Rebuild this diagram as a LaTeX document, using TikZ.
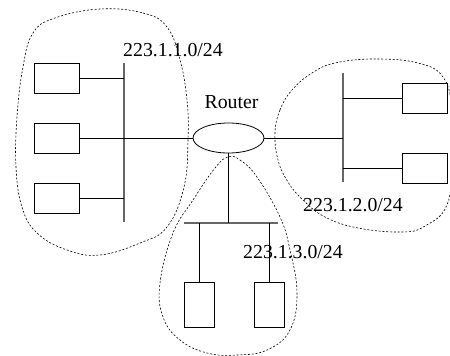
\documentclass[tikz,border=0pt]{standalone}
\usepackage{fontspec}
\setmainfont{Liberation Serif}
\usetikzlibrary{shapes.geometric}
\begin{document}
\begin{tikzpicture}[x=1pt,y=-1pt,
  host/.style={draw, minimum width=45pt, minimum height=30pt, inner sep=0pt, line width=0.8pt},
  vhost/.style={draw, minimum width=30pt, minimum height=45pt, inner sep=0pt, line width=0.8pt},
  bus/.style={draw=black!60, line width=1.4pt},
  link/.style={line width=0.8pt},
  blob/.style={dash pattern=on 2pt off 1.8pt, line width=0.6pt},
  lbl/.style={font=\fontsize{19.8}{21}\selectfont, inner sep=0pt, anchor=base west}]
\useasboundingbox (0,0) rectangle (450,356);
% blobs
\draw[blob] plot[smooth cycle, tension=0.7] coordinates {(100,9) (143,13) (167,27) (180,60) (187,100) (188,140) (184,187) (167,227) (140,243) (100,255) (67,250) (37,233) (22,207) (16,167) (17,117) (23,67) (33,33) (55,18)};
\draw[blob] plot[smooth cycle, tension=0.7] coordinates {(275,133) (280,110) (292,90) (312,73) (335,63) (375,59) (418,63) (443,77) (452,110) (452,160) (447,205) (425,226) (402,232) (358,228) (325,217) (303,200) (288,182) (278,160)};
\draw[blob] plot[smooth cycle, tension=0.7] coordinates {(228,157) (240,160) (257,177) (280,217) (290,250) (297,293) (290,330) (267,350) (237,355) (207,353) (180,340) (163,317) (160,283) (173,233) (193,200) (215,168)};
% router
\node[ellipse, draw, minimum width=71pt, minimum height=30pt, inner sep=0pt, line width=0.8pt] (r) at (228.5,138) {};
\node[font=\fontsize{19.8}{21}\selectfont, inner sep=0pt, anchor=base] (rl) at (231.5,108) {Router};
% left subnet
\node[host] (h1) at (56.5,78) {};
\node[host] (h2) at (56.5,138) {};
\node[host] (h3) at (56.5,198) {};
\coordinate (lt) at (124,63);
\coordinate (lb) at (124,222);
\draw[bus] (lt) -- (lb);
\draw[link] (h1.east) -- (h1.east -| lt);
\draw[link] (h2.east) -- (r.west);
\draw[link] (h3.east) -- (h3.east -| lt);
\node[lbl] (l1) at (123,56) {223.1.1.0/24};
% right subnet
\node[host] (h4) at (424.5,98) {};
\node[host] (h5) at (424.5,168) {};
\coordinate (rt) at (343,73);
\coordinate (rb) at (343,182);
\draw[bus] (rt) -- (rb);
\draw[link] (r.east) -- (r.east -| rt);
\draw[link] (h4.west) -- (h4.west -| rt);
\draw[link] (h5.west) -- (h5.west -| rt);
\node[lbl] (l2) at (303,211) {223.1.2.0/24};
% bottom subnet
\node[vhost] (h6) at (199,304.5) {};
\node[vhost] (h7) at (269,304.5) {};
\coordinate (bl) at (184,223);
\coordinate (br) at (278,223);
\draw[bus] (bl) -- (br);
\draw[link] (r.south) -- (r.south |- bl);
\draw[link] (h6.north) -- (h6.north |- bl);
\draw[link] (h7.north) -- (h7.north |- bl);
\node[lbl] (l3) at (243,258) {223.1.3.0/24};
\end{tikzpicture}
\end{document}
